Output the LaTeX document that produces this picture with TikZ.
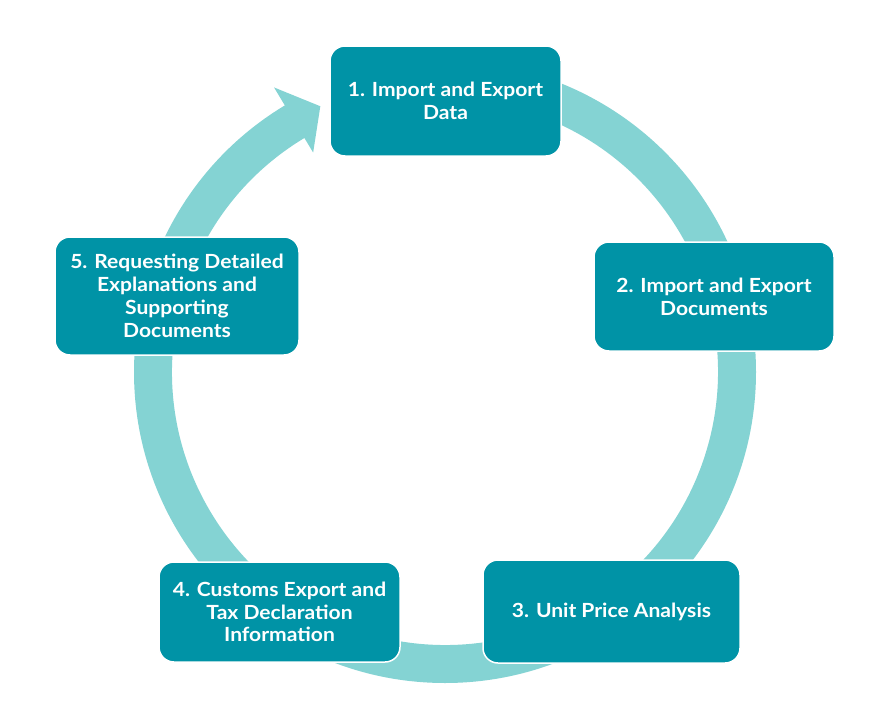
\documentclass[tikz,border=0pt]{standalone}
\usepackage{fontspec}
\setmainfont{Lato}[FakeStretch=1.08]
\usetikzlibrary{positioning, calc}
\tikzset{%
  stage/.style={
    rectangle,
    rounded corners=15pt,
    fill=stageteal,
    draw=white,
    line width=1.5pt,
    text=white,
    align=center,
    font=\fontsize{19.5}{22.8}\selectfont\bfseries
  }
}
\definecolor{stageteal}{RGB}{0,147,166}
\definecolor{ringteal}{RGB}{132,211,211}

\begin{document}
\begin{tikzpicture}[x=1pt, y=-1pt]
		\useasboundingbox (0,0) rectangle (887,720);
		% cycle ring with arrow head
		\coordinate (c) at (445,372);
		\coordinate (tip) at ($(c)+(239:292)+(329:30)$);
		\fill[ringteal] ($(c)+(-90:311)$) arc[start angle=-90, end angle=239, radius=311]
			-- ($(c)+(239:332)$) -- (tip) -- ($(c)+(239:256)$) -- ($(c)+(239:273)$)
			arc[start angle=239, end angle=-90, radius=273] -- cycle;
		% stages
		\node[stage, minimum width=231, minimum height=110] (s1) at (445.5,101) {1. Import and Export\\Data};
		\node[stage, minimum width=240, minimum height=109] (s2) at (714,296.5) {2. Import and Export\\Documents};
		\node[stage, minimum width=257, minimum height=103] (s3) at (611.5,611.5) {3. Unit Price Analysis};
		\node[stage, minimum width=241, minimum height=100] (s4) at (279.5,612) {4. Customs Export and\\Tax Declaration\\Information};
		\node[stage, minimum width=244, minimum height=118] (s5) at (177,296) {5. Requesting Detailed\\Explanations and\\Supporting\\Documents};
\end{tikzpicture}
\end{document}
